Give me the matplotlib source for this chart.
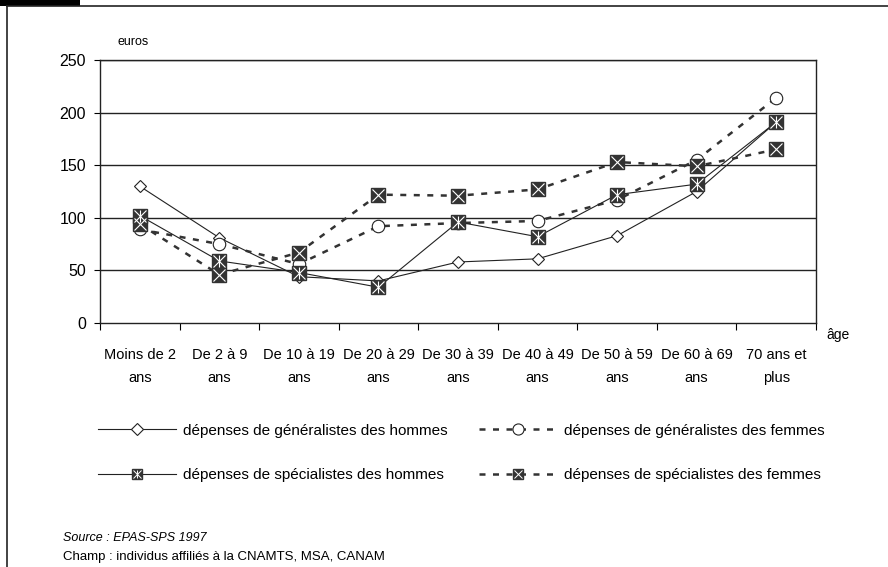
import matplotlib
matplotlib.use("Agg")
import matplotlib.pyplot as plt
from matplotlib.lines import Line2D
from matplotlib.patches import Rectangle
from matplotlib.legend_handler import HandlerTuple
import numpy as np

plt.rcParams["font.family"] = ["Liberation Sans", "DejaVu Sans"]

# --------------------------------------------------------------------------- #
# Data (euros par âge)
# --------------------------------------------------------------------------- #
categories = ["Moins de 2\nans", "De 2 à 9\nans", "De 10 à 19\nans",
              "De 20 à 29\nans", "De 30 à 39\nans", "De 40 à 49\nans",
              "De 50 à 59\nans", "De 60 à 69\nans", "70 ans et\nplus"]

gen_hommes = [130, 81, 44, 40, 58, 61, 83, 125, 191]
gen_femmes = [89, 75, 56, 92, 95, 97, 117, 155, 214]
spe_hommes = [102, 59, 48, 34, 96, 82, 122, 132, 191]
spe_femmes = [94, 46, 67, 122, 121, 127, 153, 149, 165]

labels = ["dépenses de généralistes des hommes",
          "dépenses de généralistes des femmes",
          "dépenses de spécialistes des hommes",
          "dépenses de spécialistes des femmes"]

DARK = "#333333"
LINE = "#222222"
dash = (0, (2.4, 3.0))

fig = plt.figure(figsize=(8.88, 5.67), dpi=100)
ax = fig.add_axes([100 / 888, 1 - 323 / 567, 716 / 888, 263 / 567])
x = np.arange(len(categories))

for y in [50, 100, 150, 200, 250]:
    ax.axhline(y, color=LINE, lw=1.0, zorder=1)

# generalists
ax.plot(x, gen_hommes, color=LINE, lw=0.8, marker="D", ms=6.5,
        mfc="white", mec=LINE, mew=0.8, zorder=3)
ax.plot(x, gen_femmes, color=DARK, lw=1.8, ls=dash, marker="o", ms=9,
        mfc="white", mec=LINE, mew=0.8, zorder=3)

# specialists: dark square with white cross on top
ax.plot(x, spe_hommes, color=LINE, lw=0.8, marker="s", ms=10,
        mfc=DARK, mec=DARK, zorder=4)
ax.plot(x, spe_hommes, ls="none", marker="x", ms=8, mec="white",
        mew=0.8, zorder=5)
ax.plot(x, spe_hommes, ls="none", marker="|", ms=8, mec="white",
        mew=0.8, zorder=5)
ax.plot(x, spe_femmes, color=DARK, lw=1.8, ls=dash, marker="s", ms=10,
        mfc=DARK, mec=DARK, zorder=4)
ax.plot(x, spe_femmes, ls="none", marker="x", ms=8, mec="white",
        mew=0.8, zorder=5)

ax.set_xlim(-0.5, len(categories) - 0.5)
ax.set_ylim(0, 250)
ax.set_yticks([0, 50, 100, 150, 200, 250])
ax.set_xticks(x)
ax.set_xticklabels(categories, fontsize=10.5, linespacing=1.8)
ax.set_xticks(np.arange(-0.5, len(categories)), minor=True)
ax.tick_params(axis="x", which="major", length=0, pad=18)
ax.tick_params(axis="x", which="minor", length=5, width=0.8, direction="out")
ax.tick_params(axis="y", length=4, width=0.8, labelsize=11.5, pad=6)
for s in ax.spines.values():
    s.set_linewidth(1.0)
    s.set_color(LINE)

fig.text(133 / 888, 1 - 42 / 567, "euros", fontsize=9, ha="center",
         va="center")
fig.text(826 / 888, 1 - 335 / 567, "âge", fontsize=10, ha="left",
         va="center")

# legend (row-major order: ncol=2 fills columns first)
h_gh = Line2D([], [], color=LINE, lw=0.8, marker="D", ms=6,
              mfc="white", mec=LINE, mew=0.8)
h_gf = Line2D([], [], color=DARK, lw=1.8, ls=dash, marker="o",
              ms=8, mfc="white", mec=LINE, mew=0.8)
h_sh = (Line2D([], [], color=LINE, lw=0.8, marker="s", ms=7,
               mfc=DARK, mec=DARK),
        Line2D([], [], ls="none", marker="x", ms=6, mec="white", mew=0.7),
        Line2D([], [], ls="none", marker="|", ms=6, mec="white", mew=0.7))
h_sf = (Line2D([], [], color=DARK, lw=1.8, ls=dash, marker="s",
               ms=7, mfc=DARK, mec=DARK),
        Line2D([], [], ls="none", marker="x", ms=6, mec="white", mew=0.7))

leg = fig.legend([h_gh, h_sh, h_gf, h_sf],
                 [labels[0], labels[2], labels[1], labels[3]],
                 ncol=2, loc="upper left",
                 bbox_to_anchor=(84 / 888, 1 - 410 / 567), frameon=False,
                 fontsize=11, handlelength=5.1, handletextpad=0.45,
                 columnspacing=2.1, labelspacing=2.0,
                 handler_map={tuple: HandlerTuple(ndivide=1)})

fig.text(63 / 888, 1 - 538 / 567, "Source : EPAS-SPS 1997", fontsize=9,
         style="italic", ha="left", va="center")
fig.text(63 / 888, 1 - 557 / 567,
         "Champ : individus affiliés à la CNAMTS, MSA, CANAM", fontsize=9.5,
         ha="left", va="center")

# frame around the figure
fig.add_artist(Line2D([7 / 888, 1], [1 - 6 / 567, 1 - 6 / 567],
                      transform=fig.transFigure, color=LINE, lw=1.2))
fig.add_artist(Line2D([7 / 888, 7 / 888], [0, 1 - 6 / 567],
                      transform=fig.transFigure, color=LINE, lw=1.2))
fig.add_artist(Rectangle((0, 1 - 6 / 567), 80 / 888, 6 / 567,
                         transform=fig.transFigure, color="black", lw=0))

fig.savefig("out.png", dpi=100)
